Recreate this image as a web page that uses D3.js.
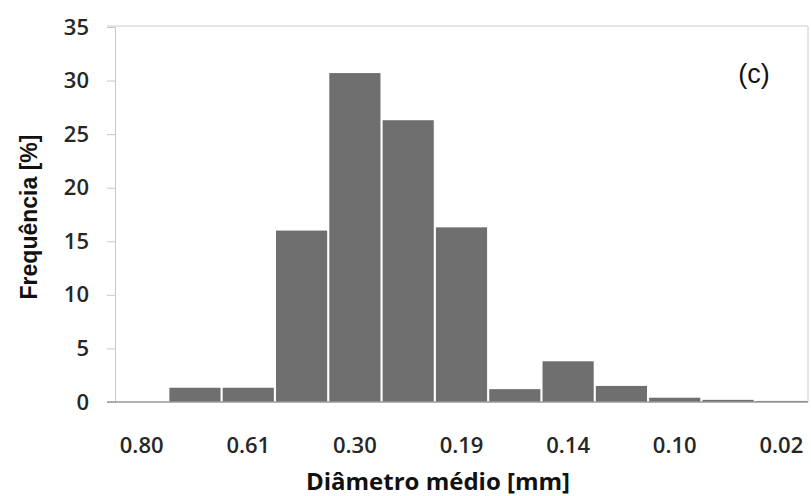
<!DOCTYPE html>
<html><head><meta charset="utf-8">
<script src="https://cdn.jsdelivr.net/npm/d3@7"></script>
<style>body{margin:0;background:#fff}</style>
</head><body>
<svg id="c" width="811" height="496"></svg>
<script>
const bins = ["b0","b1","b2","b3","b4","b5","b6","b7","b8","b9","b10","b11","b12"];
const tickLabels = ["0.80","","0.61","","0.30","","0.19","","0.14","","0.10","","0.02"];
const frequency = [0, 1.33, 1.33, 16.0, 30.7, 26.3, 16.3, 1.2, 3.8, 1.5, 0.4, 0.2, 0.1];
const yTicks = [0,5,10,15,20,25,30,35];

const svg = d3.select("#c");
const L=115, R=808, T=27, B=402;
const x = d3.scaleBand().domain(bins).range([L,R]).paddingInner(0.04).paddingOuter(0.02);
const y = d3.scaleLinear().domain([0,35]).range([B,T]);

// frame
svg.append("line").attr("x1",107).attr("x2",R).attr("y1",T-1).attr("y2",T-1).attr("stroke","#ddd").attr("stroke-width",1.5);
svg.append("line").attr("x1",R).attr("x2",R).attr("y1",T-1).attr("y2",B).attr("stroke","#ddd").attr("stroke-width",1.5);

// y axis
const ya = svg.append("g").attr("transform",`translate(${L},0)`)
  .call(d3.axisLeft(y).tickValues(yTicks).tickSize(8).tickPadding(18));
ya.select(".domain").attr("stroke","#c8c8c8");
ya.selectAll(".tick line").attr("stroke","#c8c8c8");
ya.selectAll("text").attr("font-family","Open Sans, sans-serif").attr("font-weight",600).attr("font-size",22).attr("fill","#262626");

// bars
svg.append("g").selectAll("rect").data(frequency).join("rect")
  .attr("x",(d,i)=>x(bins[i])).attr("width",x.bandwidth())
  .attr("y",d=>y(d)).attr("height",d=>B-y(d))
  .attr("fill","#6f6f6f");

// x axis
const xa = svg.append("g").attr("transform",`translate(0,${B})`)
  .call(d3.axisBottom(x).tickSize(0).tickPadding(35).tickFormat((d,i)=>tickLabels[i]));
xa.select(".domain").attr("stroke","#999").attr("stroke-width",1.5).attr("d",`M${107},0H${R}`);
xa.selectAll("text").attr("font-family","Open Sans, sans-serif").attr("font-weight",600).attr("font-size",22).attr("fill","#262626");

// titles
svg.append("text").attr("x",438).attr("y",490).attr("text-anchor","middle")
  .attr("font-family","Open Sans, sans-serif").attr("font-weight","bold").attr("font-size",24).attr("fill","#111")
  .text("Diâmetro médio [mm]");
svg.append("text").attr("transform","translate(37,217) rotate(-90)").attr("text-anchor","middle")
  .attr("font-family","Liberation Sans, Arial, sans-serif").attr("font-weight","bold").attr("font-size",23).attr("fill","#111")
  .text("Frequência [%]");
svg.append("text").attr("x",754).attr("y",83).attr("text-anchor","middle")
  .attr("font-family","Liberation Sans, Arial, sans-serif").attr("font-size",27).attr("fill","#111")
  .text("(c)");
</script>
</body></html>
